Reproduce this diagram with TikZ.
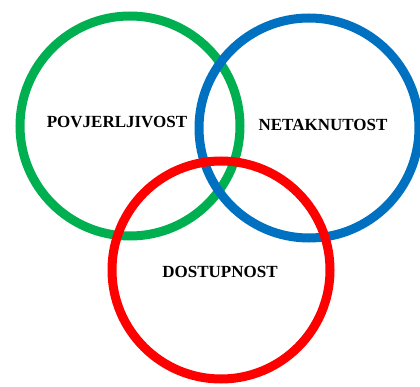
\documentclass[tikz,border=0pt]{standalone}
\usepackage{fontspec}
\setmainfont{Liberation Serif}
\usepackage{tikz}
\usetikzlibrary{positioning}

\definecolor{ringgreen}{RGB}{0,176,80}
\definecolor{ringblue}{RGB}{0,112,192}
\definecolor{ringred}{RGB}{255,0,0}

\tikzset{
	ring/.style={line width=9pt},
	label/.style={font=\fontsize{17}{20}\selectfont\bfseries, inner sep=0pt}
}

\begin{document}
\begin{tikzpicture}[x=1pt, y=-1pt]
	\useasboundingbox (0,0) rectangle (420,387);

	%%%% rings
	\draw[ring, ringgreen] (130,126) circle (110);
	\draw[ring, ringblue] (309,128) circle (110);
	\draw[ring, ringred] (221,270) circle (109);

	%%%% labels
	\node[label] (povj) at (117,122) {POVJERLJIVOST};
	\node[label] (netak) at (323,125) {NETAKNUTOST};
	\node[label] (dost) at (220,272) {DOSTUPNOST};
	%%%%%%
\end{tikzpicture}
\end{document}
